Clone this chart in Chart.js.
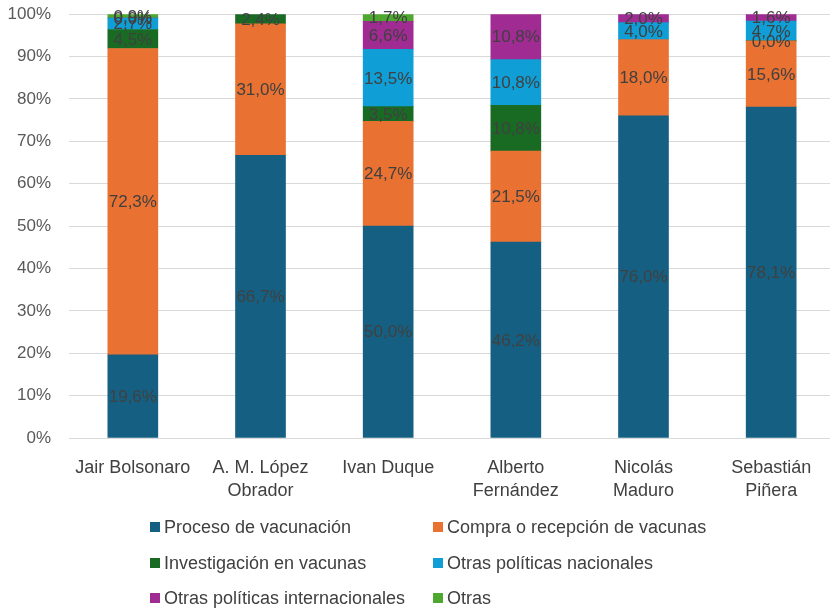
<!DOCTYPE html>
<html>
<head>
<meta charset="utf-8">
<script src="https://cdn.jsdelivr.net/npm/chart.js@4"></script>
<style>
  html, body { margin: 0; padding: 0; background: #ffffff; overflow: hidden; }
  #wrap { position: relative; width: 830px; height: 608px; overflow: hidden; }
  #chart { position: absolute; left: 0; top: -14px; }
</style>
</head>
<body>
<div id="wrap"><canvas id="chart" width="836" height="622"></canvas></div>
<script>
// Leaders (categories)
const leaders = [
  'Jair Bolsonaro',
  ['A. M. López', 'Obrador'],
  'Ivan Duque',
  ['Alberto', 'Fernández'],
  ['Nicolás', 'Maduro'],
  ['Sebastián', 'Piñera']
];

// Share of each topic per leader (%), null = no segment
const procesoVacunacion      = [19.6, 66.7, 50.0, 46.2, 76.0, 78.1];
const compraRecepcion        = [72.3, 31.0, 24.7, 21.5, 18.0, 15.6];
const investigacion          = [4.5, 2.4, 3.5, 10.8, null, 0.0];
const politicasNacionales    = [2.7, null, 13.5, 10.8, 4.0, 4.7];
const politicasInternacional = [0.0, null, 6.6, 10.8, 2.0, 1.6];
const otras                  = [0.9, null, 1.7, null, null, null];

const seriesNames = [
  'Proceso de vacunación',
  'Compra o recepción de vacunas',
  'Investigación en vacunas',
  'Otras políticas nacionales',
  'Otras políticas internacionales',
  'Otras'
];
const seriesColors = ['#156082', '#E97132', '#196B24', '#0F9ED5', '#A02B93', '#4EA72E'];
const seriesValues = [procesoVacunacion, compraRecepcion, investigacion,
                      politicasNacionales, politicasInternacional, otras];

const yTicks = [0, 10, 20, 30, 40, 50, 60, 70, 80, 90, 100];

const fmt = v => v.toFixed(1).replace('.', ',') + '%';

// Value labels centred inside each stacked segment
const segmentLabels = {
  id: 'segmentLabels',
  afterDatasetsDraw(chart) {
    const ctx = chart.ctx;
    ctx.save();
    ctx.font = '17px "Liberation Sans", Arial, sans-serif';
    ctx.fillStyle = '#404040';
    ctx.textAlign = 'center';
    ctx.textBaseline = 'middle';
    chart.data.datasets.forEach((ds, i) => {
      const meta = chart.getDatasetMeta(i);
      meta.data.forEach((el, j) => {
        const v = ds.data[j];
        if (v === null || v === undefined) return;
        const p = el.getProps(['x', 'y', 'base'], true);
        ctx.fillText(fmt(v), p.x, (p.y + p.base) / 2 + 1);
      });
    });
    ctx.restore();
  }
};

// Two-column legend under the plot, placed relative to the plot bottom
const gridLegend = {
  id: 'gridLegend',
  afterDraw(chart) {
    const ctx = chart.ctx;
    const bottom = chart.chartArea.bottom;
    const colX = [150, 433];
    const rowOffset = [89, 125, 160];
    ctx.save();
    ctx.font = '18px "Liberation Sans", Arial, sans-serif';
    ctx.textBaseline = 'middle';
    ctx.textAlign = 'left';
    chart.data.datasets.forEach((ds, i) => {
      const x = colX[i % 2];
      const y = bottom + rowOffset[Math.floor(i / 2)];
      ctx.fillStyle = ds.backgroundColor;
      ctx.fillRect(x, y - 5, 10, 10);
      ctx.fillStyle = '#404040';
      ctx.fillText(ds.label, x + 14, y + 1);
    });
    ctx.restore();
  }
};

new Chart(document.getElementById('chart'), {
  type: 'bar',
  data: {
    labels: leaders,
    datasets: seriesNames.map((name, i) => ({
      label: name,
      data: seriesValues[i],
      backgroundColor: seriesColors[i],
      borderWidth: 0,
      barThickness: 50
    }))
  },
  options: {
    responsive: false,
    animation: false,
    devicePixelRatio: 1,
    layout: { padding: { top: 0, right: 1, bottom: 100, left: 0 } },
    plugins: {
      legend: { display: false },
      tooltip: { enabled: false }
    },
    scales: {
      x: {
        stacked: true,
        grid: { display: false, drawTicks: false },
        border: { display: false },
        ticks: {
          color: '#404040',
          padding: 18,
          maxRotation: 0,
          autoSkip: false,
          font: { family: '"Liberation Sans", Arial, sans-serif', size: 18, lineHeight: 1.3 }
        },
        afterFit: s => { s.height = 70; }
      },
      y: {
        stacked: true,
        min: 0,
        max: 100,
        afterBuildTicks: s => { s.ticks = yTicks.map(v => ({ value: v })); },
        grid: { color: '#d9d9d9', lineWidth: 1, drawTicks: false },
        border: { display: false },
        ticks: {
          color: '#595959',
          padding: 18,
          callback: v => v + '%',
          font: { family: '"Liberation Sans", Arial, sans-serif', size: 17 }
        },
        afterFit: s => { s.width = 69; }
      }
    }
  },
  plugins: [segmentLabels, gridLegend]
});
</script>
</body>
</html>
